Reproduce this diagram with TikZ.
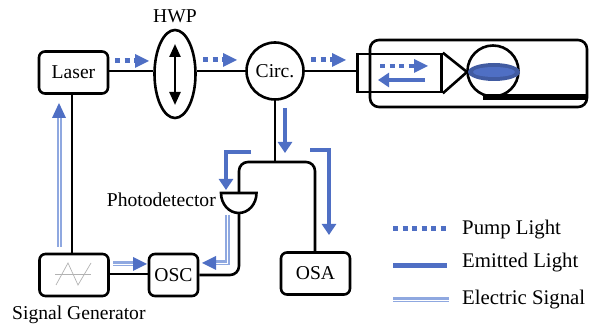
\documentclass[tikz,border=0pt]{standalone}
\usepackage{fontspec}
\setmainfont{Liberation Serif}
\usetikzlibrary{arrows.meta,calc,shapes.geometric}
\definecolor{bl}{HTML}{4F6FC4}
\definecolor{ble}{HTML}{8FA8E0}
\tikzset{
  blk/.style={draw=black,line width=2.6pt},
  box/.style={blk,rounded corners=6pt,fill=white,inner sep=0pt,minimum width=#1,minimum height=42pt},
  lab/.style={font=\fontsize{19.6pt}{21pt}\selectfont,inner sep=0pt},
  leg/.style={font=\fontsize{20.8pt}{22pt}\selectfont,inner sep=0pt},
  wire/.style={draw=black,line width=2.6pt},
  pump/.style={draw=bl,line width=5pt,dash pattern=on 5pt off 4.5pt},
  ptip/.style={draw=none,fill=bl},
  emit/.style={draw=bl,line width=4.6pt,-{Triangle[length=11pt,width=14pt,fill=bl]}},
  elec/.style={draw=ble,line width=5pt},
  elecin/.style={draw=white,line width=.9pt},
}
\newcommand{\pumparrow}[3]{% y, x start, x tip
  \draw[pump] (#2,#1) -- (#3-11,#1);
  \fill[ptip] (#3,#1) -- (#3-14,#1-7) -- (#3-14,#1+7) -- cycle;}
\newcommand{\elecpath}[1]{\draw[elec] #1; \draw[elecin] #1;}
\begin{document}
\begin{tikzpicture}[x=1pt,y=-1pt]
\useasboundingbox (0,0) rectangle (589,328);
% cavity
\node[blk,rounded corners=9pt,minimum width=217pt,minimum height=67pt,inner sep=0pt] (cav) at (478.5,73.5) {};
\node[blk,minimum width=84pt,minimum height=38pt,inner sep=0pt] (coup) at (399.5,73) {};
\coordinate (tipc) at (467,72);
\draw[wire,line join=miter] (coup.north east) -- (tipc) -- (coup.south east);
\node[blk,circle,fill=white,minimum size=51pt,inner sep=0pt] (sph) at (493,71) {};
\fill[black] (483,94) rectangle (587,100);
\fill[bl!82!black] (494,72) ellipse (26pt and 9pt);
\fill[bl] (494,72) ellipse (21pt and 5pt);
% main nodes
\node[box=69pt,lab] (laser) at (73.5,72.5) {Laser};
\node[blk,ellipse,fill=white,minimum width=41pt,minimum height=88pt,inner sep=0pt] (hwp) at (175,74) {};
\node[lab,anchor=south] (hwpl) at (175,23) {HWP};
\node[blk,circle,fill=white,minimum size=57pt,inner sep=0pt,lab] (circ) at (275,71) {Circ.};
\node[box=69pt] (sg) at (74,275) {};
\node[box=49pt,lab] (osc) at (173.5,275) {OSC};
\node[box=69pt,lab] (osa) at (315.5,273.5) {OSA};
\node[lab,anchor=west] (sgl) at (12,315) {Signal Generator};
\node[lab,anchor=east] (pdl) at (216,200) {Photodetector};
% photodetector
\coordinate (pdt) at (239,193);
\coordinate (pdb) at (239,213);
\draw[wire,line join=miter,fill=white] (221,193) -- (256.5,193) arc (0:180:17.75pt and -20pt) -- cycle;
% waveform
\draw[gray!60,line width=.7pt] (55,274) -- (91,274);
\draw[gray!60,line width=.7pt] (56,285) -- (68,263) -- (78,285) -- (91,263);
% wires
\draw[wire] (laser.east |- circ) -- (hwp.west |- circ);
\draw[wire] (hwp.east |- circ) -- (circ.west);
\draw[wire] (circ.east) -- (coup.west |- circ.east);
\draw[wire] (72,94) -- (72,254);
\draw[wire] (sg.east |- 0,274) -- (osc.west |- 0,274);
\coordinate (jn) at (275,162);
\draw[wire] (circ.south) -- (jn);
\draw[wire,rounded corners=9pt] (pdt) -- (239,162) -- (315,162) -- (315,252);
\draw[wire,rounded corners=9pt] (pdb) -- (239,275) -- (osc.east);
% HWP axis
\draw[line width=2.4pt,{Triangle[length=13pt,width=11pt]}-{Triangle[length=13pt,width=11pt]}] (175,44) -- (175,105);
% pump
\pumparrow{61}{115}{149}
\pumparrow{60}{203}{237}
\pumparrow{60}{311}{346}
% coupler arrows
\draw[pump,line width=4.5pt] (380,66) -- (415,66);
\fill[ptip] (428,66) -- (414,59) -- (414,73) -- cycle;
\draw[emit] (425,80) -- (378,80);
% emitted
\draw[emit] (285,108) -- (285,153);
\draw[emit,line join=miter] (251,152) -- (226,152) -- (226,190);
\draw[emit,line join=miter] (310,150) -- (329,150) -- (329,235);
% electric
\elecpath{(59,247) -- (59,115)}
\fill[ptip] (59,103) -- (52,118) -- (66,118) -- cycle;
\elecpath{(113,264) -- (135,264)}
\fill[ptip] (147,264) -- (133,257) -- (133,271) -- cycle;
\begin{scope}[line join=miter]
\elecpath{(227,215) -- (227,263) -- (214,263)}
\end{scope}
\fill[ptip] (202,263) -- (216,256) -- (216,270) -- cycle;
% legend
\draw[pump] (393,229) -- (447,229);
\draw[draw=bl,line width=5pt] (393,266) -- (447,266);
\elecpath{(393,300) -- (449,300)}
\node[leg,anchor=west] (l1) at (462,230) {Pump Light};
\node[leg,anchor=west] (l2) at (462,263) {Emitted Light};
\node[leg,anchor=west] (l3) at (462,300) {Electric Signal};
\end{tikzpicture}
\end{document}
